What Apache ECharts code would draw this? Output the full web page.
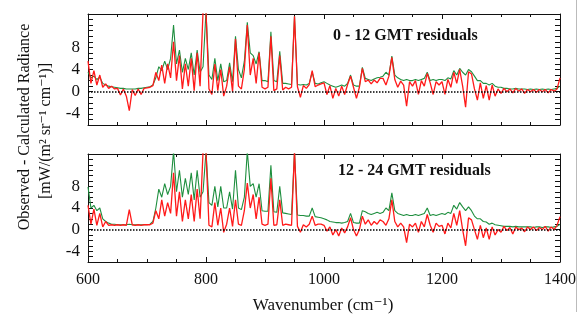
<!DOCTYPE html>
<html>
<head>
<meta charset="utf-8">
<title>Observed - Calculated Radiance residuals</title>
<script src="https://cdn.jsdelivr.net/npm/echarts@6/dist/echarts.min.js"></script>
<style>
  html, body { margin: 0; padding: 0; background: #fff; }
  #chart { width: 579px; height: 327px; }
</style>
</head>
<body>
<div id="chart"></div>
<script>
// wavenumber grid (cm-1), every 5 cm-1
const wavenumbers = [
  600, 605, 610, 615, 620, 625, 630, 635, 640, 645,
  650, 655, 660, 665, 670, 675, 680, 685, 690, 695,
  700, 705, 710, 715, 720, 725, 730, 735, 740, 745,
  750, 755, 760, 765, 770, 775, 780, 785, 790, 795,
  800, 805, 810, 815, 820, 825, 830, 835, 840, 845,
  850, 855, 860, 865, 870, 875, 880, 885, 890, 895,
  900, 905, 910, 915, 920, 925, 930, 935, 940, 945,
  950, 955, 960, 965, 970, 975, 980, 985, 990, 995,
  1000, 1005, 1010, 1015, 1020, 1025, 1030, 1035, 1040, 1045,
  1050, 1055, 1060, 1065, 1070, 1075, 1080, 1085, 1090, 1095,
  1100, 1105, 1110, 1115, 1120, 1125, 1130, 1135, 1140, 1145,
  1150, 1155, 1160, 1165, 1170, 1175, 1180, 1185, 1190, 1195,
  1200, 1205, 1210, 1215, 1220, 1225, 1230, 1235, 1240, 1245,
  1250, 1255, 1260, 1265, 1270, 1275, 1280, 1285, 1290, 1295,
  1300, 1305, 1310, 1315, 1320, 1325, 1330, 1335, 1340, 1345,
  1350, 1355, 1360, 1365, 1370, 1375, 1380, 1385, 1390, 1395, 1400
];

// 0 - 12 GMT : green and red residuals
const green1 = [
  3.5, 2.5, 2.8, 2.2, 2.6, 1.5, 1.2, 1.0, 0.9, 0.8,
  0.7, 0.6, 0.6, 0.5, 0.5, 0.5, 0.5, 0.6, 0.6, 0.7,
  0.8, 0.9, 1.2, 2.5, 4.5, 3.8, 5.5, 4.0, 6.0, 12.0,
  5.0, 7.5, 3.5, 6.0, 4.0, 7.0, 3.0, 7.5, 3.5, 4.5,
  14.5, 3.0, 2.2, 6.0, 2.0, 5.0, 1.8, 2.0, 5.2, 1.8,
  10.0, 4.0, 2.5, 5.5, 12.5, 7.0, 6.5, 5.0, 7.2, 2.0,
  2.0, 1.8, 10.8, 2.0, 1.8, 7.3, 1.5, 1.5, 1.4, 1.3,
  13.6, 1.3, 1.2, 1.3, 1.2, 1.5, 3.5, 1.5, 1.4, 1.6,
  1.8, 1.5, 1.2, 1.0, 0.8, 1.0, 1.2, 1.0, 1.5, 3.0,
  1.2, 1.0, 1.0, 4.4, 2.4, 2.2, 2.0, 2.3, 2.5, 2.6,
  2.8, 3.5, 3.0, 6.4, 3.0, 2.5, 2.2, 2.0, 2.2, 2.0,
  2.0, 2.2, 2.0, 2.2, 2.4, 3.5, 2.0, 2.2, 2.0, 2.2,
  2.2, 2.0, 2.5, 2.3, 3.8, 3.0, 4.2, 3.5, 3.0, 4.0,
  3.6, 2.8, 2.0, 2.0, 1.5, 1.5, 1.2, 1.5, 1.0, 0.8,
  0.8, 0.6, 0.6, 0.5, 0.5, 0.6, 0.5, 0.5, 0.5, 0.4,
  0.5, 0.4, 0.5, 0.4, 0.5, 0.4, 0.5, 0.4, 0.5, 0.6, 1.0
];
const red1 = [
  5.5, 1.5, 3.8, 1.2, 3.0, 0.8, 1.4, 0.6, 1.0, 0.5,
  0.6, -0.6, 0.5, -0.8, -3.4, 0.4, -0.7, 0.5, -0.5, 0.6,
  0.7, 0.8, 1.1, 3.5, 2.0, 4.8, 1.5, 5.0, 2.5, 9.0,
  2.0, 6.5, 0.5, 5.0, 1.0, 6.0, 0.2, 7.0, 1.0, 14.5,
  14.5, 0.5, -0.5, 5.0, 0.2, 4.0, -0.8, 1.0, 4.5, 0.0,
  9.5, 1.0, 0.5, 4.0, 12.0, 3.0, 6.0, 1.5, 7.0, 0.8,
  0.5, 0.8, 10.0, 0.2, 0.5, 6.5, 0.3, 0.8, 0.5, 0.8,
  13.6, 0.9, -1.0, 1.1, 0.6, 1.3, 3.8, 0.9, 1.2, 1.4,
  1.6, -0.5, 1.1, -1.2, 0.6, -0.8, 1.0, -0.5, 1.3, 2.8,
  0.8, -1.2, 0.8, 4.2, 1.8, 2.1, 1.4, 2.1, 1.6, 2.4,
  2.4, 1.2, 2.8, 6.2, 2.2, 0.8, 1.9, 1.2, -2.6, 1.8,
  1.0, 2.0, -0.5, 2.0, 1.0, 3.3, 1.6, -0.5, 1.8, 1.2,
  1.8, -0.5, 2.2, 0.8, 3.5, 1.5, 4.0, 1.0, -2.8, 3.6,
  3.2, 0.5, -1.5, 1.6, -1.2, 1.1, -1.5, 1.2, -0.8, 0.5,
  -0.3, 0.6, 0.0, 0.5, -0.2, 0.6, 0.1, 0.5, -0.3, 0.4,
  0.0, 0.4, -0.1, 0.4, 0.0, 0.4, -0.2, 0.4, 0.1, 0.5, 2.5
];

// 12 - 24 GMT : green and red residuals
const green2 = [
  7.9, 4.0, 4.5, 3.5, 4.0, 2.0, 1.5, 1.2, 1.0, 1.0,
  0.9, 0.9, 0.9, 0.9, 1.0, 0.9, 0.9, 0.9, 0.9, 0.9,
  0.9, 1.0, 1.5, 4.0, 7.5, 6.0, 8.5, 6.5, 8.0, 14.5,
  7.0, 11.0, 6.0, 9.5, 6.5, 10.5, 5.5, 11.0, 6.0, 7.0,
  14.5, 5.0, 4.5, 8.0, 4.2, 8.0, 4.0, 4.0, 7.0, 3.8,
  11.0, 4.0, 3.7, 6.0, 14.5, 8.0, 8.5, 6.0, 8.5, 3.5,
  3.4, 3.4, 11.9, 3.3, 3.2, 8.0, 3.1, 3.0, 2.9, 2.8,
  14.5, 2.7, 2.6, 2.6, 2.5, 2.5, 4.0, 2.4, 2.3, 2.2,
  2.0, 1.8, 1.5, 1.4, 1.3, 1.3, 1.2, 1.3, 1.5, 3.0,
  1.3, 1.2, 1.2, 3.5, 3.3, 3.0, 2.8, 3.0, 3.2, 3.0,
  3.2, 4.0, 3.5, 6.8, 3.5, 3.0, 2.8, 2.6, 2.8, 2.6,
  2.6, 2.8, 2.6, 2.8, 3.0, 4.0, 2.6, 2.8, 2.6, 2.8,
  3.0, 2.8, 3.2, 3.0, 4.5, 3.8, 5.0, 4.2, 3.5, 4.2,
  3.5, 2.5, 2.0, 2.0, 1.5, 1.4, 1.0, 1.2, 0.9, 0.8,
  0.7, 0.6, 0.6, 0.6, 0.5, 0.6, 0.5, 0.5, 0.5, 0.5,
  0.5, 0.4, 0.5, 0.5, 0.4, 0.5, 0.5, 0.4, 0.5, 0.6, 1.0
];
const red2 = [
  4.5, 1.0, 3.8, 0.8, 3.0, 0.5, 1.5, 0.8, 0.9, 0.8,
  0.9, 0.8, 0.9, 0.8, 3.7, 0.9, 0.8, 0.9, 0.8, 0.9,
  0.9, 0.9, 1.2, 3.5, 2.0, 5.5, 2.5, 5.0, 3.0, 10.5,
  2.5, 7.0, 1.5, 5.5, 2.0, 6.5, 1.5, 7.5, 2.0, 14.5,
  14.5, 0.8, 0.5, 5.0, 0.8, 4.0, -0.5, 1.0, 4.0, 0.6,
  5.5, 1.0, 0.8, 3.5, 8.6, 4.0, 6.5, 2.0, 6.0, 1.0,
  0.8, 1.0, 9.5, 0.8, 0.9, 5.5, 0.8, 1.0, 0.9, 0.8,
  14.5, 0.6, -0.5, 0.9, 0.5, 1.0, 2.5, 0.8, 1.0, 1.0,
  0.8, -0.3, 0.5, -1.0, 0.0, -1.2, 0.3, -0.6, 0.5, 2.2,
  0.0, -1.2, 0.0, 2.5, 1.0, 1.8, 0.8, 1.5, 1.0, 1.8,
  1.5, 0.8, 2.0, 5.5, 1.5, 0.5, 1.2, 0.5, -2.4, 1.0,
  0.5, 1.2, -0.5, 1.5, 0.5, 2.8, 0.8, -0.5, 1.2, 0.6,
  0.8, -0.8, 1.2, 0.3, 3.0, 0.8, 3.5, 0.0, -3.0, 2.2,
  1.8, 0.0, -1.8, 0.8, -1.5, 0.3, -1.8, 0.5, -1.0, 0.0,
  -0.5, 0.6, -0.2, 0.4, -0.8, 0.5, 0.0, 0.3, -0.4, 0.5,
  0.0, 0.5, -0.2, 0.4, 0.0, 0.6, -0.3, 0.5, 0.0, 0.8, 2.4
];

const yTickLabels = [-4, 0, 4, 8];
const xTickLabels = [600, 800, 1000, 1200, 1400];
const panelTitles = ['0 - 12 GMT residuals', '12 - 24 GMT residuals'];

const FONT = '"Liberation Serif", "DejaVu Serif", serif';
const INK = '#111';
const RED = '#ff1a1a';
const GREEN = '#1f8f3f';

const pairs = (ys) => wavenumbers.map((x, i) => [x, ys[i]]);

// x axis (bottom + mirrored top) for one panel
const makeXAxes = (gridIndex, withLabels) => {
  const base = {
    gridIndex,
    type: 'value',
    min: 600,
    max: 1400,
    interval: 200,
    axisLine: { show: true, onZero: false, lineStyle: { color: INK, width: 1 } },
    axisTick: { show: true, inside: true, length: 5, lineStyle: { color: INK } },
    minorTick: { show: true, splitNumber: 4, length: 3, lineStyle: { color: INK } },
    splitLine: { show: false }
  };
  return [
    {
      ...base,
      position: 'bottom',
      axisLabel: {
        show: withLabels,
        color: INK,
        fontFamily: FONT,
        fontSize: 16,
        margin: 10,
        formatter: (v) => (xTickLabels.includes(v) ? String(v) : '')
      }
    },
    { ...base, position: 'top', axisLabel: { show: false } }
  ];
};

// y axis (left + mirrored right) for one panel
const makeYAxes = (gridIndex) => {
  const base = {
    gridIndex,
    type: 'value',
    min: -6,
    max: 14,
    interval: 1,
    axisLine: { show: true, onZero: false, lineStyle: { color: INK, width: 1 } },
    axisTick: { show: true, inside: true, length: 5, lineStyle: { color: INK } },
    splitLine: { show: false }
  };
  return [
    {
      ...base,
      position: 'left',
      axisLabel: {
        color: INK,
        fontFamily: FONT,
        fontSize: 17,
        margin: 8,
        hideOverlap: false,
        formatter: (v) => (yTickLabels.includes(v) ? String(v) : '')
      }
    },
    { ...base, position: 'right', axisLabel: { show: false } }
  ];
};

const lineSeries = (name, data, color, axisIndex, extra) => ({
  name,
  type: 'line',
  xAxisIndex: axisIndex,
  yAxisIndex: axisIndex,
  data: pairs(data),
  showSymbol: false,
  symbol: 'none',
  sampling: 'none',
  animation: false,
  lineStyle: { color, width: color === RED ? 1.3 : 1.1 },
  z: color === RED ? 3 : 2,
  ...extra
});

const zeroLine = {
  silent: true,
  symbol: 'none',
  label: { show: false },
  lineStyle: { color: '#000', type: 'dotted', width: 1.5 },
  data: [{ yAxis: 0 }]
};

const chart = echarts.init(document.getElementById('chart'), null, { renderer: 'canvas' });

const option = {
  backgroundColor: '#fff',
  animation: false,
  grid: [
    { left: 88, top: 14, width: 472, height: 111 },
    { left: 88, top: 154, width: 472, height: 108 }
  ],
  xAxis: [...makeXAxes(0, false), ...makeXAxes(1, true)],
  yAxis: [...makeYAxes(0), ...makeYAxes(1)],
  series: [
    lineSeries('green 0-12', green1, GREEN, 0, { markLine: zeroLine }),
    lineSeries('red 0-12', red1, RED, 0),
    lineSeries('green 12-24', green2, GREEN, 2, { markLine: zeroLine }),
    lineSeries('red 12-24', red2, RED, 2)
  ],
  graphic: [
    {
      type: 'text', left: 333, top: 28,
      style: { text: panelTitles[0], font: 'bold 16px ' + FONT, fill: INK }
    },
    {
      type: 'text', left: 338, top: 163,
      style: { text: panelTitles[1], font: 'bold 16px ' + FONT, fill: INK }
    },
    {
      type: 'text', x: 25, y: 127, rotation: Math.PI / 2,
      style: {
        text: 'Observed - Calculated Radiance', font: '16px ' + FONT, fill: INK,
        align: 'center', verticalAlign: 'middle'
      }
    },
    {
      type: 'text', x: 46, y: 131, rotation: Math.PI / 2,
      style: {
        text: '[mW/(m\u00b2 sr\u207b\u00b9 cm\u207b\u00b9)]', font: '16px ' + FONT, fill: INK,
        align: 'center', verticalAlign: 'middle'
      }
    },
    {
      type: 'text', x: 323, y: 306,
      style: {
        text: 'Wavenumber (cm\u207b\u00b9)', font: '17px ' + FONT, fill: INK,
        align: 'center', verticalAlign: 'middle'
      }
    },
    // faint scan edge on the right side of the figure
    {
      type: 'line', silent: true,
      shape: { x1: 576.5, y1: 0, x2: 576.5, y2: 312 },
      style: { stroke: '#bbb', lineWidth: 1 }
    }
  ]
};

chart.setOption(option);
</script>
</body>
</html>
